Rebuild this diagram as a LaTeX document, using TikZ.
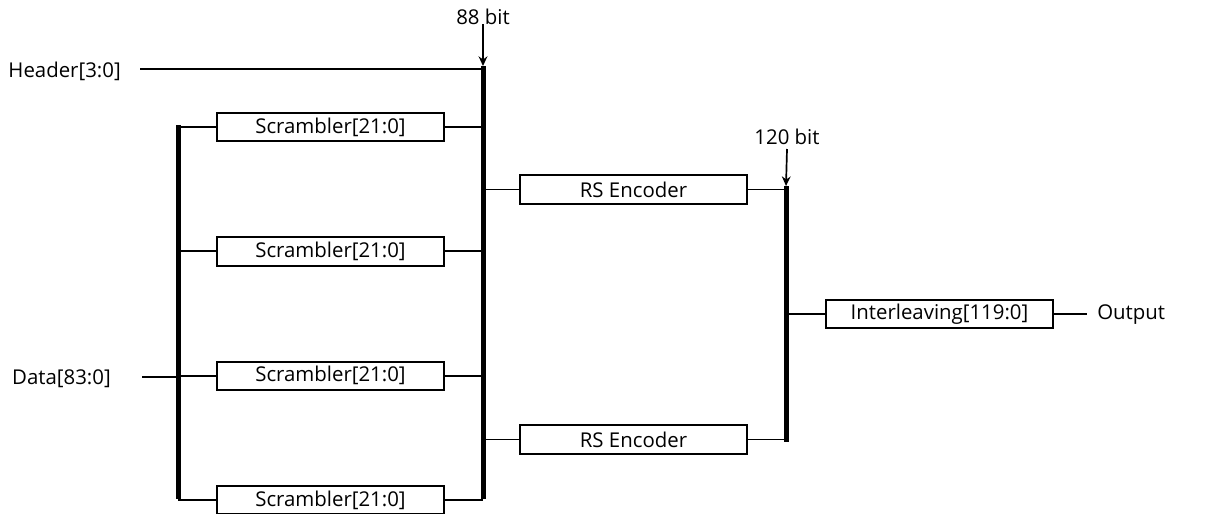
\documentclass[tikz,border=0pt]{standalone}
\usepackage{fontspec}
\setmainfont{Open Sans}
\usetikzlibrary{arrows.meta,positioning}

\begin{document}
\begin{tikzpicture}[
    x=0.025cm, y=-0.025cm,
    node distance=2.35cm,
    block/.style={rectangle, draw, line width=1.4pt, minimum width=5.675cm, minimum height=0.71cm, inner sep=0pt, font=\fontsize{14.5}{16}\selectfont},
    lbl/.style={inner sep=0pt, font=\fontsize{14.5}{16}\selectfont},
    wire/.style={line width=1.3pt},
    bus/.style={line width=0.125cm, line cap=butt},
    arrow/.style={-{Stealth[length=2.4mm, width=2.2mm]}, line width=1.2pt},
]
\useasboundingbox (0,0) rectangle (1220,513);

% scrambler column
\node[block] (scr1) at (330.5,127) {Scrambler[21:0]};
\node[block, below=of scr1] (scr2) {Scrambler[21:0]};
\node[block, below=of scr2] (scr3) {Scrambler[21:0]};
\node[block, below=of scr3] (scr4) {Scrambler[21:0]};

% encoders and interleaver
\node[block] (rs1) at (633.5,189.5) {RS Encoder};
\node[block] (rs2) at (633.5,439.5) {RS Encoder};
\node[block] (il) at (939.5,314) {Interleaving[119:0]};

% buses
\coordinate (dtop) at (178,125);
\coordinate (dbot) at (178,499);
\coordinate (htop) at (483,66);
\coordinate (hbot) at (483,499);
\coordinate (otop) at (786,186);
\coordinate (obot) at (786,442);
\draw[bus] (dtop) -- (dbot);
\draw[bus] (htop) -- (hbot);
\draw[bus] (otop) -- (obot);

% inputs
\node[lbl, anchor=east] (hdr) at (121,71) {Header[3:0]};
\node[lbl, anchor=east] (data) at (111,379) {Data[83:0]};
\coordinate (hin) at (140,69);
\coordinate (din) at (142,377);
\draw[wire] (hin) -- (hin -| htop);
\draw[wire] (din) -- (din -| dtop);

% scramblers to buses
\foreach \s in {scr1,scr2,scr3,scr4}{
  \draw[wire] (\s.west -| dtop) -- (\s.west);
  \draw[wire] (\s.east) -- (\s.east -| htop);
}

% encoders
\draw[wire] (rs1.west -| htop) -- (rs1.west);
\draw[wire] (rs2.west -| htop) -- (rs2.west);
\draw[wire] (rs1.east) -- (rs1.east -| otop);
\draw[wire] (rs2.east) -- (rs2.east -| otop);
\draw[wire] (il.west -| otop) -- (il.west);

% output
\coordinate (oend) at (1087,314);
\node[lbl, anchor=west] (out) at (1097,315) {Output};
\draw[wire] (il.east) -- (oend);

% widths
\node[lbl] (w88) at (483,17) {88 bit};
\node[lbl] (w120) at (787,137) {120 bit};
\draw[arrow] (w88.south) ++(0,-1) -- (htop);
\draw[arrow] (w120.south |- 0,149) -- (otop);
\end{tikzpicture}
\end{document}
